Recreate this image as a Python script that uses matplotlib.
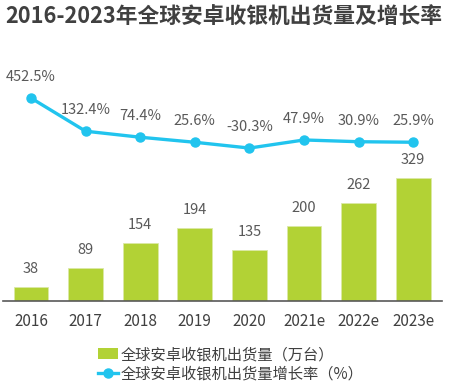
import matplotlib
matplotlib.use("Agg")
import matplotlib.pyplot as plt
from matplotlib.patches import Patch
from matplotlib.lines import Line2D

plt.rcParams["font.family"] = ["Noto Sans CJK SC", "DejaVu Sans"]

years = ["2016", "2017", "2018", "2019", "2020", "2021e", "2022e", "2023e"]
shipments = [38, 89, 154, 194, 135, 200, 262, 329]
growth = [452.5, 132.4, 74.4, 25.6, -30.3, 47.9, 30.9, 25.9]

bar_color = "#b2d235"
line_color = "#21c4ee"
text_color = "#595959"

fig = plt.figure(figsize=(4.5, 3.88), dpi=100)
ax = fig.add_axes([3 / 450, 87 / 388, 439 / 450, 241 / 388])
x = list(range(len(years)))

ax.bar(x, shipments, width=0.64, color=bar_color, edgecolor="#dbe9a6", linewidth=0.6, zorder=2)
for xi, v in zip(x, shipments):
    ax.annotate(str(v), (xi, v), xytext=(0, 8), textcoords="offset points",
                ha="center", va="bottom", fontsize=10.5, color=text_color)

ax.set_xlim(-0.513, 7.527)
ax.set_ylim(0, 643)
ax.set_xticks(x)
ax.set_xticklabels(years, fontsize=11, color="#404040")
ax.tick_params(axis="x", length=0, pad=9)
ax.set_yticks([])
for side in ["top", "right", "left"]:
    ax.spines[side].set_visible(False)
ax.spines["bottom"].set_color("#595959")
ax.spines["bottom"].set_linewidth(1.2)

ax2 = ax.twinx()
ax2.plot(x, growth, color=line_color, linewidth=2.4, marker="o", markersize=6.5, zorder=3)
for xi, v in zip(x, growth):
    ax2.annotate(f"{v}%", (xi, v), xytext=(0, 10), textcoords="offset points",
                 ha="center", va="bottom", fontsize=10.5, color=text_color)
ax2.set_ylim(-1507, 820)
ax2.set_yticks([])
for side in ["top", "right", "left", "bottom"]:
    ax2.spines[side].set_visible(False)

fig.text(5 / 450, 1 - 17 / 388, "2016-2023年全球安卓收银机出货量及增长率", fontsize=15.7,
         fontweight="bold", color="#404040", ha="left", va="center")

handles = [Patch(facecolor=bar_color, edgecolor="none"),
           Line2D([0], [0], color=line_color, linewidth=2.4, marker="o", markersize=6.5)]
labels = ["全球安卓收银机出货量（万台）", "全球安卓收银机出货量增长率（%）"]
fig.legend(handles, labels, loc="upper left", bbox_to_anchor=(92 / 450, 1 - 340 / 388),
           frameon=False, fontsize=11, labelcolor="#404040", handlelength=1.3,
           handletextpad=0.2, labelspacing=0.15, borderaxespad=0)

fig.savefig("out.png", dpi=100)
